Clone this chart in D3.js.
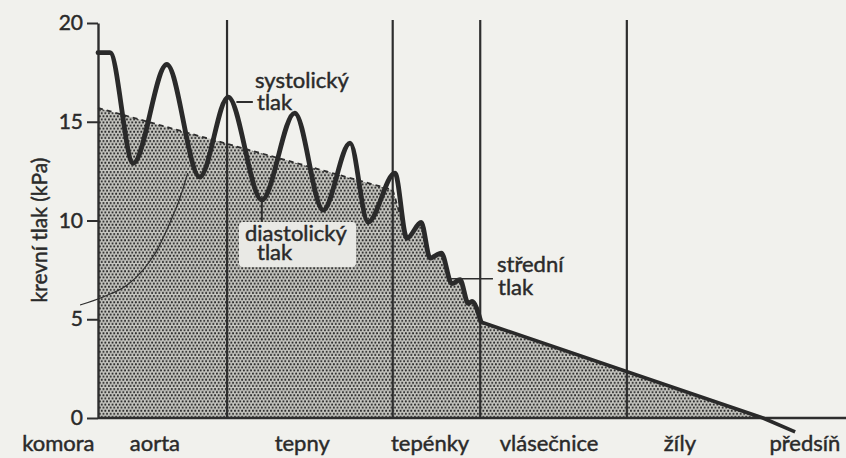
<!DOCTYPE html>
<html><head><meta charset="utf-8">
<script src="https://cdn.jsdelivr.net/npm/d3@7/dist/d3.min.js"></script>
<style>
html,body{margin:0;padding:0;background:#f1f1ed;}
svg{display:block;}
text{font-family:Lato,"Open Sans",sans-serif;fill:#2a2a2a;stroke:#2a2a2a;stroke-width:0.45px;}
</style></head>
<body><svg id="c" width="846" height="458"></svg>
<script>
// ---- data (x = relative distance along circulation 0..100, y = pressure kPa) ----
const yTicks = [0, 5, 10, 15, 20];
const categories = ["komora", "aorta", "tepny", "tepénky", "vlásečnice", "žíly", "předsíň"];
const categoryPos = [-5.3, 7.6, 27.3, 44.4, 60.3, 77.8, 94.5];
const boundaries = [17.25, 39.4, 51.1, 70.7];
// systolic/diastolic oscillating pressure
const waveX = [0, 1.6, 4.7, 9.2, 13.6, 17.4, 21.9, 26.3, 30.1, 33.7, 36.1, 39.7, 41.3, 43.2, 44.4, 45.9, 47.3, 48.4, 49.5, 50.0, 51.2];
const waveY = [18.5, 18.5, 12.9, 17.9, 12.2, 16.25, 11.04, 15.44, 10.53, 13.92, 9.92, 12.4, 9.1, 9.9, 8.1, 8.35, 6.8, 7.0, 5.8, 5.9, 4.86];
// mean pressure (dashed)
const meanX = [0, 39.4];
const meanY = [15.7, 11.55];
// capillary/venous decline
const tailX = [51.2, 88.9, 93.2];
const tailY = [4.86, 0, -0.7];
// ventricular pressure (thin curve)
const ventX = [-2.4, 0.67, 3.9, 6.0, 7.9, 9.6, 11.0, 12.0];
const ventY = [5.72, 6.13, 6.73, 7.49, 8.5, 9.87, 11.19, 12.4];

// ---- scales ----
const svg = d3.select("#c");
const x = d3.scaleLinear().domain([0, 100]).range([98, 846]);
const y = d3.scaleLinear().domain([0, 20]).range([418, 23]);
const ink = "#2e2e2e";

const defs = svg.append("defs");
const pat = defs.append("pattern").attr("id", "stip").attr("width", 3.6).attr("height", 6.2)
  .attr("patternUnits", "userSpaceOnUse");
pat.append("rect").attr("width", 3.6).attr("height", 6.2).attr("fill", "#c6c6c0");
pat.append("circle").attr("cx", 0.9).attr("cy", 1.55).attr("r", 1.1).attr("fill", "#2c2c2c");
pat.append("circle").attr("cx", 2.7).attr("cy", 4.65).attr("r", 1.1).attr("fill", "#2c2c2c");

// fill under mean pressure
const fillPts = meanX.map((d, i) => [d, meanY[i]])
  .concat(waveX.map((d, i) => [d, waveY[i]]).filter(p => p[0] > 41))
  .concat([[tailX[1], tailY[1]]]);
svg.append("path")
  .attr("d", d3.area().x(d => x(d[0])).y0(y(0)).y1(d => y(d[1]))(fillPts))
  .attr("fill", "url(#stip)");

// boundary lines
svg.selectAll("line.b").data(boundaries).join("line").attr("class", "b")
  .attr("x1", d => x(d)).attr("x2", d => x(d))
  .attr("y1", y(0)).attr("y2", y(20.15))
  .attr("stroke", ink).attr("stroke-width", 2.2);

// axes
const ya = svg.append("g").attr("transform", `translate(${x(0)},0)`)
  .call(d3.axisLeft(y).tickValues(yTicks).tickSize(11).tickSizeOuter(0).tickPadding(4));
ya.select(".domain").attr("stroke", ink).attr("stroke-width", 2.4);
ya.selectAll(".tick line").attr("stroke", ink).attr("stroke-width", 2);
ya.selectAll(".tick text").style("font-size", "21px").attr("fill", "#2a2a2a")
  .style("font-family", "Lato, sans-serif");

svg.append("line").attr("x1", x(0)).attr("x2", x(100)).attr("y1", y(0)).attr("y2", y(0))
  .attr("stroke", ink).attr("stroke-width", 2.6);

// mean dashed line
svg.append("path")
  .attr("d", d3.line().x(d => x(d[0])).y(d => y(d[1]))(
    meanX.map((d, i) => [d, meanY[i]]).concat([[waveX[12], waveY[12]]])))
  .attr("fill", "none").attr("stroke", ink).attr("stroke-width", 1.8)
  .attr("stroke-dasharray", "5,4");

// ventricular curve
svg.append("path")
  .attr("d", d3.line().curve(d3.curveMonotoneX).x(d => x(d[0])).y(d => y(d[1]))(
    ventX.map((d, i) => [d, ventY[i]])))
  .attr("fill", "none").attr("stroke", ink).attr("stroke-width", 1.2);

// oscillating pressure
svg.append("path")
  .attr("d", d3.line().curve(d3.curveMonotoneX).x(d => x(d[0])).y(d => y(d[1]))(
    waveX.map((d, i) => [d, waveY[i]])))
  .attr("fill", "none").attr("stroke", "#2a2a2a").attr("stroke-width", 4.8)
  .attr("stroke-linejoin", "round").attr("stroke-linecap", "round");

svg.append("path")
  .attr("d", d3.line().x(d => x(d[0])).y(d => y(d[1]))(tailX.map((d, i) => [d, tailY[i]])))
  .attr("fill", "none").attr("stroke", "#2a2a2a").attr("stroke-width", 3.6)
  .attr("stroke-linecap", "butt");

// annotations
const fs = "22px";
function label(x0, y0, lines, dx2, dy) {
  const t = svg.append("text").attr("x", x0).attr("y", y0).style("font-size", fs);
  t.append("tspan").attr("x", x0).text(lines[0]);
  t.append("tspan").attr("x", x0 + dx2).attr("dy", dy).text(lines[1]);
}
// systolic
svg.append("line").attr("x1", x(18.5)).attr("x2", x(20.7)).attr("y1", y(16.0)).attr("y2", y(16.0))
  .attr("stroke", ink).attr("stroke-width", 2);
label(255, 88, ["systolický", "tlak"], 2, 22);
// diastolic
svg.append("line").attr("x1", x(21.9)).attr("x2", x(21.9)).attr("y1", y(11.0)).attr("y2", y(9.8))
  .attr("stroke", ink).attr("stroke-width", 2);
svg.append("rect").attr("x", 239).attr("y", 222).attr("width", 117).attr("height", 45)
  .attr("rx", 4).attr("fill", "#e9e9e5");
label(245, 241, ["diastolický", "tlak"], 12, 19);
// mean
svg.append("line").attr("x1", x(47.2)).attr("x2", x(52.8)).attr("y1", y(7.05)).attr("y2", y(7.05))
  .attr("stroke", ink).attr("stroke-width", 1.6);
label(497, 272, ["střední", "tlak"], 1, 23);

// category labels
svg.selectAll("text.cat").data(categories).join("text").attr("class", "cat")
  .attr("x", (d, i) => x(categoryPos[i])).attr("y", 451)
  .attr("text-anchor", "middle").style("font-size", "22px").text(d => d);

// y label
svg.append("text").attr("transform", "translate(47,230) rotate(-90)")
  .attr("text-anchor", "middle").style("font-size", "21px").text("krevní tlak (kPa)");
</script></body></html>
